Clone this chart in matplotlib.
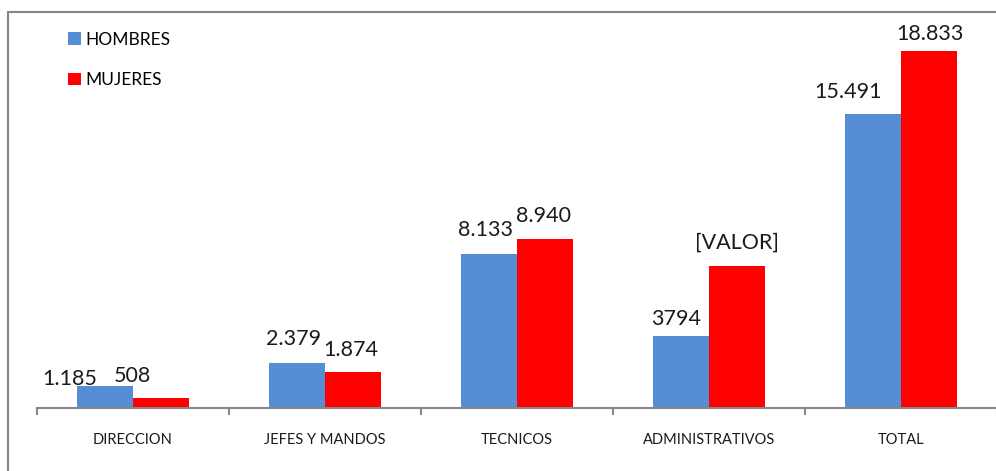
import numpy as np
import matplotlib.pyplot as plt
from matplotlib.patches import Rectangle

plt.rcParams['font.family'] = ['Lato', 'DejaVu Sans']

categorias = ['DIRECCION', 'JEFES Y MANDOS', 'TECNICOS', 'ADMINISTRATIVOS', 'TOTAL']
hombres = [1185, 2379, 8133, 3794, 15491]
mujeres = [508, 1874, 8940, 7490, 18833]
etiquetas_h = ['1.185', '2.379', '8.133', '3794', '15.491']
etiquetas_m = ['508', '1.874', '8.940', '[VALOR]', '18.833']

# label offsets (pixels, to baseline) from bar top, as placed by hand in the original
off_h = [(-35, 1), (-4, 18), (-4, 18), (-5, 11), (-25, 16)]
off_m = [(-28, 16), (-2, 16), (-1, 17), (0, 17), (1, 11)]

W, H = 996, 471
fig = plt.figure(figsize=(W / 100, H / 100), dpi=100)
ax = fig.add_axes([37 / W, (H - 408) / H, 960 / W, 379 / H])

x = np.arange(len(categorias))
w = 0.29
b1 = ax.bar(x - w / 2, hombres, w, color='#558ED5', label='HOMBRES')
b2 = ax.bar(x + w / 2, mujeres, w, color='#FF0000', label='MUJERES')

for bars, labs, offs in [(b1, etiquetas_h, off_h), (b2, etiquetas_m, off_m)]:
    for bar, lab, (dx, dy) in zip(bars, labs, offs):
        ax.annotate(lab, (bar.get_x() + bar.get_width() / 2, bar.get_height()),
                    xytext=(dx, dy), textcoords='offset pixels',
                    ha='center', va='baseline', fontsize=15.5, color='#1a1a1a')

ax.set_xlim(-0.5, len(categorias) - 0.5)
ax.set_ylim(0, 20000)
ax.set_xticks(x)
ax.set_xticklabels(categorias, fontsize=10.5, color='#1a1a1a')
ax.set_xticks(np.arange(-0.5, len(categorias)), minor=True)
ax.tick_params(axis='x', which='major', length=0, pad=18)
ax.tick_params(axis='x', which='minor', length=5, width=1.5, color='#868686')
ax.get_yaxis().set_visible(False)
for s in ['left', 'top', 'right']:
    ax.spines[s].set_visible(False)
ax.spines['bottom'].set_color('#868686')
ax.spines['bottom'].set_linewidth(1.5)

fig.legend(loc='upper left', bbox_to_anchor=(59 / W, 1 - 23 / H), frameon=False,
           fontsize=12.5, handlelength=0.75, handleheight=0.75, handletextpad=0.25,
           labelspacing=1.4, borderpad=0)

# outer chart border (cut off at the right and bottom in the original)
fig.add_artist(Rectangle((8 / W, -0.2), 2, 1.2 - 12 / H, transform=fig.transFigure,
                         fill=False, edgecolor='#868686', linewidth=1.5))

fig.savefig('out.png', dpi=100)
